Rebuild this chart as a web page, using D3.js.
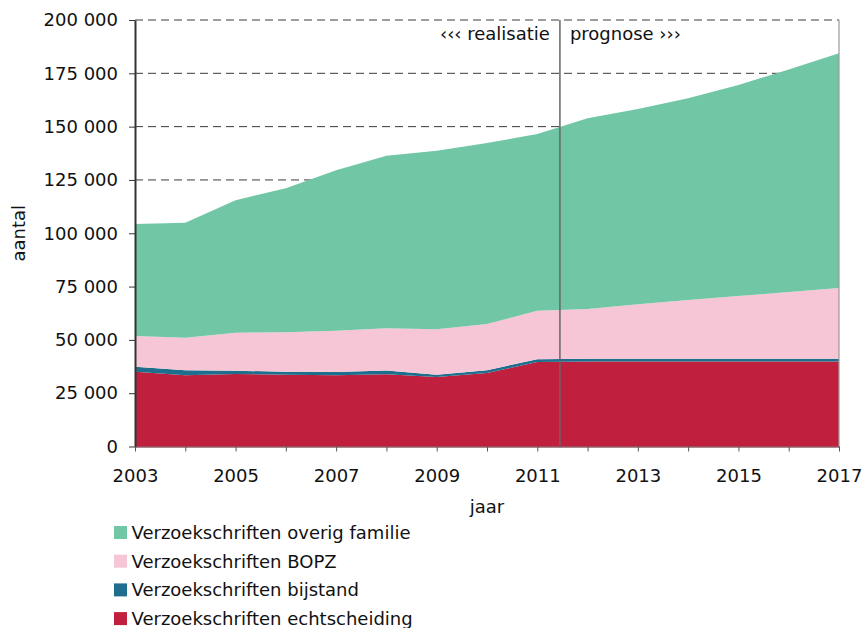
<!DOCTYPE html>
<html>
<head>
<meta charset="utf-8">
<script src="https://cdn.jsdelivr.net/npm/d3@7"></script>
<style>
  html, body { margin: 0; padding: 0; background: #fff; }
  svg { display: block; font-family: "DejaVu Sans", Verdana, sans-serif; }
</style>
</head>
<body>
<svg id="chart" width="864" height="628"></svg>
<script>
// Jaartallen en reeksen (aantal verzoekschriften)
const years = [2003, 2004, 2005, 2006, 2007, 2008, 2009, 2010, 2011, 2012, 2013, 2014, 2015, 2016, 2017];
const echtscheiding = [35100, 33400, 34000, 33700, 33400, 33900, 32600, 34500, 39600, 39900, 39900, 39900, 39900, 39900, 39900];
const bijstand      = [2300, 2300, 1500, 1400, 1500, 1700, 1100, 1300, 1300, 1200, 1200, 1200, 1200, 1200, 1200];
const bopz          = [14400, 15300, 17800, 18500, 19400, 19900, 21300, 21600, 22800, 23400, 25600, 27600, 29500, 31300, 33200];
const overig        = [52500, 53900, 62200, 67500, 75300, 80900, 83700, 84900, 82800, 89400, 91600, 94600, 98900, 104400, 110100];

const seriesNames = ["Verzoekschriften echtscheiding", "Verzoekschriften bijstand", "Verzoekschriften BOPZ", "Verzoekschriften overig familie"];
const seriesColors = ["#c01f3d", "#1e6e8e", "#f6c6d6", "#71c7a5"];
const yTicks = [0, 25000, 50000, 75000, 100000, 125000, 150000, 175000, 200000];
const xLabelYears = [2003, 2005, 2007, 2009, 2011, 2013, 2015, 2017];
const splitYear = 2011.45;
const splitLabels = ["\u2039\u2039\u2039 realisatie", "prognose \u203A\u203A\u203A"];
const xTitle = "jaar";
const yTitle = "aantal";

const keys = ["echtscheiding", "bijstand", "bopz", "overig"];
const table = years.map((yr, i) => ({
  year: yr,
  echtscheiding: echtscheiding[i],
  bijstand: bijstand[i],
  bopz: bopz[i],
  overig: overig[i]
}));

const svg = d3.select("#chart");
const plotLeft = 135, plotRight = 839, plotTop = 20, plotBottom = 446.5;

const x = d3.scaleLinear().domain([d3.min(years), d3.max(years)]).range([plotLeft, plotRight]);
const y = d3.scaleLinear().domain([0, 200000]).range([plotBottom, plotTop]);

const nl = d3.formatLocale({ decimal: ",", thousands: " ", grouping: [3], currency: ["", ""] });
const fmt = nl.format(",");

// gestippelde rasterlijnen
svg.append("g")
  .selectAll("line")
  .data(yTicks.filter(d => d > 0))
  .join("line")
  .attr("x1", plotLeft).attr("x2", plotRight)
  .attr("y1", d => y(d)).attr("y2", d => y(d))
  .attr("stroke", "#3a3a3a")
  .attr("stroke-width", 1)
  .attr("stroke-dasharray", "8,5");

// gestapelde vlakken
const stacked = d3.stack().keys(keys)(table);
const area = d3.area()
  .x(d => x(d.data.year))
  .y0(d => y(d[0]))
  .y1(d => y(d[1]));

svg.append("g")
  .selectAll("path")
  .data(stacked)
  .join("path")
  .attr("fill", (d, i) => seriesColors[i])
  .attr("d", area);

// scheiding realisatie / prognose
svg.append("line")
  .attr("x1", x(splitYear)).attr("x2", x(splitYear))
  .attr("y1", plotTop).attr("y2", plotBottom)
  .attr("stroke", "#666")
  .attr("stroke-width", 1.5);

svg.append("text")
  .attr("x", x(splitYear) - 10).attr("y", 40)
  .attr("text-anchor", "end")
  .attr("font-size", 18)
  .attr("fill", "#111")
  .text(splitLabels[0]);

svg.append("text")
  .attr("x", x(splitYear) + 10).attr("y", 40)
  .attr("text-anchor", "start")
  .attr("font-size", 18)
  .attr("fill", "#111")
  .text(splitLabels[1]);

// rechterkader
svg.append("line")
  .attr("x1", plotRight).attr("x2", plotRight)
  .attr("y1", plotTop).attr("y2", plotBottom)
  .attr("stroke", "#999")
  .attr("stroke-width", 1.2);

// y-as
const yAxis = svg.append("g")
  .attr("transform", `translate(${plotLeft},0)`)
  .call(d3.axisLeft(y).tickValues(yTicks).tickFormat(fmt).tickSize(6).tickSizeOuter(0).tickPadding(11));
yAxis.select(".domain").attr("stroke", "#333").attr("stroke-width", 2);
yAxis.selectAll(".tick line").attr("stroke", "#333");
yAxis.selectAll(".tick text").attr("font-size", 18).attr("fill", "#111").attr("font-family", "DejaVu Sans, Verdana, sans-serif");

// x-as
const xAxis = svg.append("g")
  .attr("transform", `translate(0,${plotBottom})`)
  .call(d3.axisBottom(x).tickValues(years)
    .tickFormat(d => xLabelYears.includes(d) ? String(d) : "")
    .tickSize(5).tickSizeOuter(0).tickPadding(17.5));
xAxis.select(".domain").attr("stroke", "#5a1020").attr("stroke-width", 1);
xAxis.selectAll(".tick line").attr("stroke", "#555");
xAxis.selectAll(".tick text").attr("font-size", 18).attr("fill", "#111").attr("font-family", "DejaVu Sans, Verdana, sans-serif");

// astitels
svg.append("text")
  .attr("x", (plotLeft + plotRight) / 2).attr("y", 513)
  .attr("text-anchor", "middle")
  .attr("font-size", 18)
  .attr("fill", "#111")
  .text(xTitle);

svg.append("text")
  .attr("transform", `translate(25,${(plotTop + plotBottom) / 2}) rotate(-90)`)
  .attr("text-anchor", "middle")
  .attr("font-size", 18)
  .attr("fill", "#111")
  .text(yTitle);

// legenda (bovenste laag eerst)
const legendOrder = [3, 2, 1, 0];
const legend = svg.append("g")
  .selectAll("g")
  .data(legendOrder)
  .join("g")
  .attr("transform", (d, i) => `translate(114,${526 + i * 28.7})`);

legend.append("rect")
  .attr("width", 13).attr("height", 13)
  .attr("fill", d => seriesColors[d]);

legend.append("text")
  .attr("x", 17.5).attr("y", 13)
  .attr("font-size", 18)
  .attr("fill", "#111")
  .text(d => seriesNames[d]);
</script>
</body>
</html>
